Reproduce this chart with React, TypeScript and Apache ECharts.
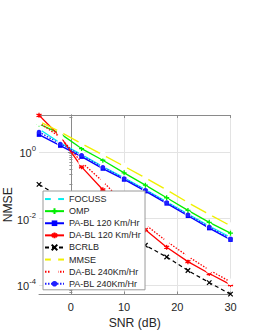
import React, { useEffect, useRef } from "react";
import * as echarts from "echarts";

const SNR = [-6, -2, 2, 6, 10, 14, 18, 22, 26, 30];
const X_TICKS = [0, 10, 20, 30];

const FOCUSS = [4.9, 1.86, 0.83, 0.363, 0.166, 0.074, 0.0316, 0.0135, 0.0059, 0.0027];
const OMP = [6.9, 3.55, 1.26, 0.56, 0.234, 0.1, 0.0417, 0.0174, 0.0076, 0.0036];
const PA_BL_120 = [3.31, 1.55, 0.72, 0.316, 0.148, 0.066, 0.0282, 0.012, 0.0051, 0.00229];
const DA_BL_120 = [12.6, 2.88, 0.355, 0.0724, 0.017, 0.00457, 0.00135, 0.0005, 0.000219, 0.000102];
const BCRLB = [0.105, 0.045, 0.019, 0.0083, 0.0035, 0.00155, 0.00069, 0.00027, 0.000117, 0.0000525];
const MMSE = [8.3, 4.0, 1.78, 0.81, 0.37, 0.166, 0.072, 0.03, 0.0132, 0.006];
const DA_BL_240 = [7.6, 2.75, 0.49, 0.129, 0.0282, 0.00646, 0.00204, 0.00072, 0.00028, 0.000123];
const PA_BL_240 = [3.98, 1.74, 0.79, 0.347, 0.158, 0.071, 0.03, 0.0129, 0.0055, 0.00245];

const NAMES = [
  "FOCUSS",
  "OMP",
  "PA-BL 120 Km/Hr",
  "DA-BL 120 Km/Hr",
  "BCRLB",
  "MMSE",
  "DA-BL 240Km/Hr",
  "PA-BL 240Km/Hr",
];

const Y_MIN = Math.pow(10, -4.29);
const Y_MAX = Math.pow(10, 1.11);

const FONT = "Liberation Sans, Arial, Helvetica, sans-serif";
const TXT = "#262626";
const BOX = "#8a8a8a";

const pair = (ys: number[]) => SNR.map((x, i) => [x, ys[i]]);

const PLUS = "path://M5,0L5,10M0,5L10,5";
const ASTER = "path://M5,0L5,10M0.67,2.5L9.33,7.5M0.67,7.5L9.33,2.5";
const CROSS = "path://M0,0L10,10M0,10L10,0";

function mk(
  name: string,
  ys: number[],
  color: string,
  symbol: string,
  size: number,
  lineType: any,
  fill: string,
  bw: number,
  lw: number
) {
  return {
    name,
    type: "line",
    data: pair(ys),
    color,
    symbol,
    symbolSize: size,
    clip: false,
    lineStyle: { color, width: lw, type: lineType },
    itemStyle: { color: fill, borderColor: color, borderWidth: bw },
    emphasis: { disabled: true },
  };
}

export default function App() {
  const ref = useRef<HTMLDivElement>(null);
  useEffect(() => {
    if (!ref.current) return;
    const chart = echarts.init(ref.current, undefined, { renderer: "svg" });
    const yLabel = (v: number) => {
      const e = Math.round(Math.log10(v));
      return "{b|10}{s|" + e + "}";
    };
    chart.setOption({
      animation: false,
      textStyle: { fontFamily: FONT },
      grid: { left: 39, top: 115, right: 24.5, bottom: 35.5, containLabel: false, outerBoundsMode: "none" },
      legend: {
        data: NAMES,
        orient: "vertical",
        left: 43,
        top: 191,
        padding: [2, 4, 0, 1],
        itemWidth: 19,
        itemHeight: 7,
        itemGap: 0,
        backgroundColor: "#ffffff",
        borderColor: "#9a9a9a",
        borderWidth: 1,
        borderRadius: 0,
        selectedMode: false,
        textStyle: { fontSize: 9, color: TXT, fontFamily: FONT, lineHeight: 12.1 },
      },
      xAxis: [
        {
          type: "value",
          min: -6,
          max: 30,
          name: "SNR (dB)",
          nameLocation: "middle",
          nameGap: 22,
          nameMoveOverlap: false,
          nameTextStyle: { fontSize: 12.2, color: TXT, fontFamily: FONT },
          axisLine: { show: true, lineStyle: { color: BOX, width: 1 } },
          axisTick: { show: true, inside: true, length: 3, customValues: X_TICKS, lineStyle: { color: BOX } },
          axisLabel: { customValues: X_TICKS, fontSize: 11, color: TXT, margin: 7, fontFamily: FONT },
          splitLine: { show: true, lineStyle: { color: "#e3e3e3", width: 1 } },
        },
        {
          type: "value",
          position: "top",
          min: -6,
          max: 30,
          axisLine: { show: true, lineStyle: { color: BOX, width: 1 } },
          axisTick: { show: true, inside: true, length: 3, customValues: X_TICKS, lineStyle: { color: BOX } },
          axisLabel: { show: false },
          splitLine: { show: false },
        },
      ],
      yAxis: [
        {
          type: "log",
          logBase: 100,
          min: Y_MIN,
          max: Y_MAX,
          name: "NMSE",
          nameLocation: "middle",
          nameGap: 25,
          nameMoveOverlap: false,
          nameTextStyle: { fontSize: 12.2, color: TXT, fontFamily: FONT },
          axisLine: { show: true, lineStyle: { color: BOX, width: 1 } },
          axisTick: { show: true, inside: true, length: 3, lineStyle: { color: BOX } },
          minorTick: { show: true, splitNumber: 10, length: 1.5, lineStyle: { color: BOX } },
          axisLabel: {
            showMinLabel: false,
            showMaxLabel: false,
            hideOverlap: false,
            margin: 3,
            formatter: yLabel,
            rich: {
              b: { fontSize: 11, color: TXT, fontFamily: FONT, verticalAlign: "bottom" },
              s: { fontSize: 7.7, color: TXT, fontFamily: FONT, verticalAlign: "top", padding: [0, 0, 6, 0] },
            },
          },
          splitLine: { show: true, lineStyle: { color: "#e3e3e3", width: 1 } },
        },
        {
          type: "log",
          logBase: 100,
          position: "right",
          min: Y_MIN,
          max: Y_MAX,
          axisLine: { show: true, lineStyle: { color: BOX, width: 1 } },
          axisTick: { show: true, inside: true, length: 3, lineStyle: { color: BOX } },
          minorTick: { show: true, splitNumber: 10, length: 1.5, lineStyle: { color: BOX } },
          axisLabel: { show: false },
          splitLine: { show: false },
        },
      ],
      series: [
        mk(NAMES[0], FOCUSS, "#00f0f0", "emptyCircle", 4.5, "solid", "#ffffff", 1.2, 1.3),
        mk(NAMES[1], OMP, "#00ee00", PLUS, 5, "solid", "#00ee00", 1.3, 1.3),
        mk(NAMES[2], PA_BL_120, "#0000ff", "rect", 4.5, "solid", "#0000ff", 0, 1.4),
        mk(NAMES[3], DA_BL_120, "#ff0000", ASTER, 5, "solid", "#ff0000", 1.3, 1.3),
        mk(NAMES[4], BCRLB, "#000000", CROSS, 4.5, [4, 3], "#000000", 1.2, 1.2),
        mk(NAMES[5], MMSE, "#f0f000", "emptyCircle", 5, "solid", "#ffffff", 1.3, 1.4),
        mk(NAMES[6], DA_BL_240, "#ff0000", "emptyCircle", 4.5, [1.5, 1.5], "#ffffff", 1.2, 1.3),
        mk(NAMES[7], PA_BL_240, "#2020ff", "circle", 4.5, [1.5, 1.5], "#2020ff", 0, 1.3),
      ],
    });
    return () => chart.dispose();
  }, []);
  return (
    <div
      ref={ref}
      style={{ position: "fixed", left: 0, top: 0, width: 255, height: 330, background: "#ffffff" }}
    />
  );
}
